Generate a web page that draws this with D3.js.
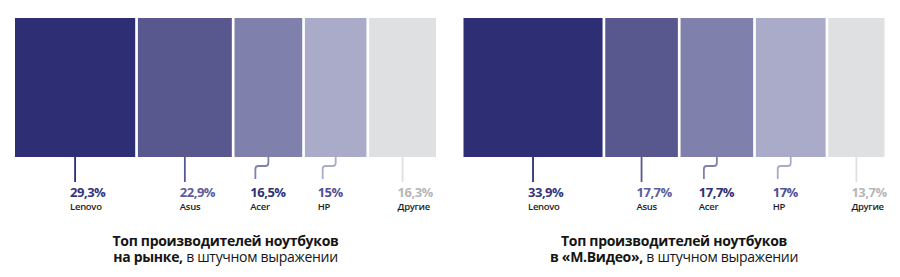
<!DOCTYPE html>
<html>
<head>
<meta charset="utf-8">
<script src="https://cdn.jsdelivr.net/npm/d3@7.9.0/dist/d3.min.js"></script>
<style>
  body { margin: 0; background: #fff; }
  svg { display: block; }
  .pct { font-family: "Open Sans", sans-serif; font-weight: 700; font-size: 13px; letter-spacing: -0.5px; }
  .name { font-family: "Open Sans", sans-serif; font-weight: 600; font-size: 9.5px; fill: #1e1e1e; letter-spacing: -0.3px; }
  .title { font-family: "Open Sans", sans-serif; font-size: 14px; fill: #151515; letter-spacing: -0.3px; }
</style>
</head>
<body>
<svg width="900" height="277"></svg>
<script>
// categories and shares (%), left = whole market, right = M.Video
const brands = ['Lenovo', 'Asus', 'Acer', 'HP', 'Другие'];
const marketShare = [29.3, 22.9, 16.5, 15, 16.3];
const mvideoShare = [33.9, 17.7, 17.7, 17, 13.7];
const marketLabels = ['29,3%', '22,9%', '16,5%', '15%', '16,3%'];
const mvideoLabels = ['33,9%', '17,7%', '17,7%', '17%', '13,7%'];

// colours per brand
const barColors = ['#2e2e74', '#58588f', '#8080ac', '#aaaac9', '#dfe0e2'];
const pctColors = ['#34347c', '#5c5c9c', '#2f2f74', '#4f4f95', '#b6b6ba'];
// brands whose leader line steps to the left
const stepped = ['Acer', 'HP'];

const svg = d3.select('svg');
const gap = 2.7;
const barTop = 18, barBottom = 157;

function drawBlock(x0, values, labels, titleBold, titleRest) {
  const total = d3.sum(values);
  const width = 421 - gap * (values.length - 1);
  let x = d3.scaleLinear().domain([0, total]).range([0, width]);
  let starts = d3.cumsum([0].concat(values.slice(0, -1)));
  let g = svg.append('g').attr('transform', `translate(${x0},0)`);

  let items = values.map((v, i) => ({
    brand: brands[i], value: v, label: labels[i],
    x: x(starts[i]) + gap * i, w: x(v), i
  }));

  g.selectAll('rect.bar')
    .data(items)
    .join('rect')
    .attr('class', 'bar')
    .attr('x', (d) => d.x)
    .attr('y', barTop)
    .attr('width', (d) => d.w)
    .attr('height', barBottom - barTop)
    .attr('fill', (d) => barColors[d.i]);

  items.forEach((d) => {
    let cx = d.x + d.w / 2;
    let path, endX;
    if (stepped.includes(d.brand)) {
      endX = cx - 13;
      path = `M${cx},${barBottom} V163 Q${cx},166 ${cx - 3},166 H${endX + 3} Q${endX},166 ${endX},169 V179`;
    } else {
      endX = cx;
      path = `M${cx},${barBottom} V182`;
    }
    g.append('path')
      .attr('d', path)
      .attr('fill', 'none')
      .attr('stroke', barColors[d.i])
      .attr('stroke-width', 1.8);
    g.append('text')
      .attr('class', 'pct')
      .attr('x', endX - 5)
      .attr('y', 196.5)
      .attr('fill', pctColors[d.i])
      .text(d.label);
    g.append('text')
      .attr('class', 'name')
      .attr('x', endX - 5)
      .attr('y', 210)
      .text(d.brand);
  });

  // caption under the chart (two lines in one text)
  let cx = 421 / 2;
  let t = g.append('text').attr('class', 'title')
    .attr('x', cx).attr('y', 246)
    .attr('text-anchor', 'middle');
  t.append('tspan').attr('x', cx).attr('font-weight', 700)
    .text('Топ производителей ноутбуков');
  t.append('tspan').attr('x', cx).attr('dy', 16).attr('font-weight', 700).text(titleBold);
  t.append('tspan').text(titleRest);
}

drawBlock(15, marketShare, marketLabels, 'на рынке,', ' в штучном выражении');
drawBlock(463.5, mvideoShare, mvideoLabels, 'в «М.Видео»,', ' в штучном выражении');
</script>
</body>
</html>
